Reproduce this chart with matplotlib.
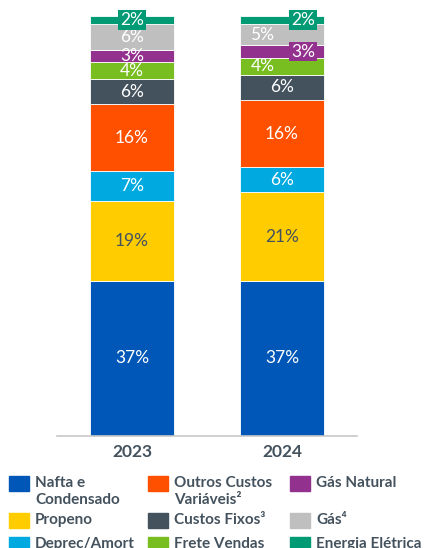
import matplotlib
matplotlib.use("Agg")
import matplotlib.pyplot as plt
from matplotlib.patches import Rectangle

plt.rcParams['font.family'] = ['Lato', 'DejaVu Sans']

anos = ['2023', '2024']
categorias = ['Nafta e\nCondensado', 'Propeno', 'Deprec/Amort',
              'Outros Custos\nVariáveis²', 'Custos Fixos³', 'Frete Vendas',
              'Gás Natural', 'Gás⁴', 'Energia Elétrica']
valores_2023 = [37, 19, 7, 16, 6, 4, 3, 6, 2]
valores_2024 = [37, 21, 6, 16, 6, 4, 3, 5, 2]
cores = ['#0057B8', '#FFCC00', '#00A9E0', '#FF5000', '#44525E',
         '#78BE20', '#93328E', '#BFBFBF', '#009A75']
cor_texto = '#44525E'

fig = plt.figure(figsize=(4.29, 5.48), dpi=100)
ax = fig.add_axes([57 / 429, 1 - 436 / 548, 300 / 429, 420 / 548])

x = [0, 1]
largura = 0.555
base = [0, 0]
for i, cat in enumerate(categorias):
    vals = [valores_2023[i], valores_2024[i]]
    ax.bar(x, vals, largura, bottom=base, color=cores[i],
           edgecolor='white', linewidth=0.6)
    for j in range(2):
        v = vals[j]
        yc = base[j] + v / 2
        xc = x[j]
        caixa = None
        # rótulos pequenos deslocados nas últimas faixas de 2024
        if j == 1 and i in (7, 5):
            xc = x[j] - 0.13
        if j == 1 and i in (8, 6):
            xc = x[j] + 0.14
            caixa = dict(boxstyle='square,pad=0.1', fc=cores[i], ec='none')
        if j == 0 and i == 8:
            caixa = dict(boxstyle='square,pad=0.1', fc=cores[i], ec='none')
        cor = cor_texto if i == 1 else 'white'
        ax.text(xc, yc, f'{v}%', ha='center', va='center', fontsize=12.5,
                color=cor, bbox=caixa)
    base = [base[0] + vals[0], base[1] + vals[1]]

ax.set_xlim(-0.5, 1.5)
ax.set_ylim(0, 100)
ax.set_xticks(x)
ax.set_xticklabels(anos, fontsize=12.5, fontweight='bold', color=cor_texto)
ax.tick_params(axis='x', length=0, pad=6)
ax.set_yticks([])
for lado in ['top', 'right', 'left']:
    ax.spines[lado].set_visible(False)
ax.spines['bottom'].set_color('#C8C8C8')
ax.spines['bottom'].set_linewidth(1.2)

# legenda em três colunas
col_x = [9, 148, 290]
lin_y = [483, 520, 544]
for i, cat in enumerate(categorias):
    c, r = divmod(i, 3)
    x0, y0 = col_x[c], lin_y[r]
    fig.patches.append(Rectangle((x0 / 429, 1 - (y0 + 7.5) / 548), 20 / 429, 15 / 548,
                                 transform=fig.transFigure, color=cores[i]))
    fig.text((x0 + 26) / 429, 1 - (y0 - 7) / 548, cat, ha='left', va='top',
             fontsize=11, fontweight='bold', color=cor_texto, linespacing=1.25)

fig.savefig('out.png', dpi=100)
